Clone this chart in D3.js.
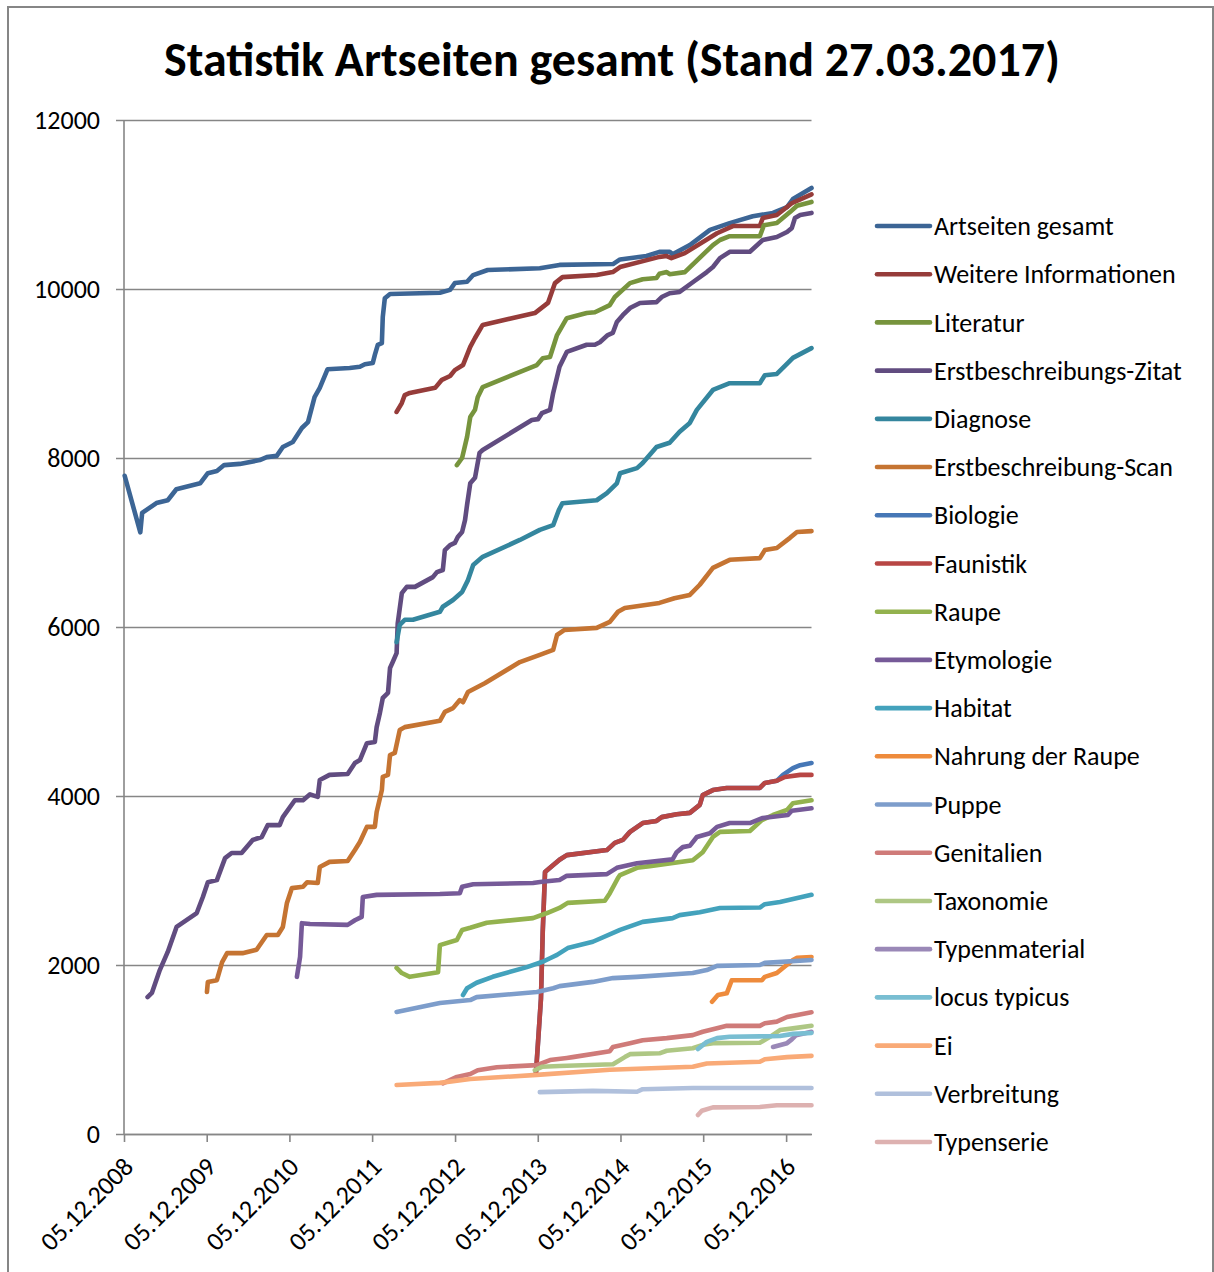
<!DOCTYPE html>
<html><head><meta charset="utf-8">
<script src="https://cdn.jsdelivr.net/npm/d3@7"></script>
<style>
html,body{margin:0;padding:0;background:#fff;}
svg{display:block;}
text{font-family:Carlito, Calibri, Lato, sans-serif;fill:#000;}
</style></head>
<body>
<svg id="chart" width="1214" height="1272"></svg>
<script>
const titleText = "Statistik Artseiten gesamt (Stand 27.03.2017)";
const seriesNames = ["Artseiten gesamt","Weitere Informationen","Literatur","Erstbeschreibungs-Zitat","Diagnose","Erstbeschreibung-Scan","Biologie","Faunistik","Raupe","Etymologie","Habitat","Nahrung der Raupe","Puppe","Genitalien","Taxonomie","Typenmaterial","locus typicus","Ei","Verbreitung","Typenserie"];
const seriesColors = ["#3C6595","#963C3A","#77943D","#614C80","#34869E","#C57432","#4677B6","#B84644","#93B24E","#765A98","#43A2BC","#EE8B3C","#7D9DCB","#CF7B79","#AEC784","#9A88B7","#79BED2","#F9AA77","#B0C0DC","#DDB1B0"];
const yTicks = [0,2000,4000,6000,8000,10000,12000];
const xTickLabels = ["05.12.2008","05.12.2009","05.12.2010","05.12.2011","05.12.2012","05.12.2013","05.12.2014","05.12.2015","05.12.2016"];
const dateRange = ["2008-12-05","2017-03-27"];

const artseitenGesamt = [["2008-12-08",7790],["2009-02-15",7120],["2009-02-23",7350],["2009-04-27",7467],["2009-06-16",7500],["2009-07-24",7630],["2009-11-06",7700],["2009-12-10",7820],["2010-01-19",7845],["2010-02-20",7916],["2010-04-30",7930],["2010-07-27",7975],["2010-08-27",8010],["2010-10-10",8025],["2010-11-06",8130],["2010-12-20",8190],["2011-01-29",8355],["2011-02-25",8425],["2011-03-26",8720],["2011-04-18",8830],["2011-05-22",9050],["2011-08-28",9065],["2011-10-12",9080],["2011-11-03",9110],["2011-12-08",9125],["2011-12-17",9220],["2011-12-30",9340],["2012-01-17",9360],["2012-01-21",9670],["2012-01-30",9890],["2012-02-22",9940],["2012-09-29",9955],["2012-11-13",9990],["2012-12-04",10070],["2013-01-27",10085],["2013-02-23",10165],["2013-04-28",10225],["2013-12-14",10245],["2014-03-11",10285],["2014-11-02",10295],["2014-12-03",10350],["2015-03-30",10390],["2015-05-26",10440],["2015-07-10",10440],["2015-07-23",10410],["2015-10-07",10520],["2016-01-04",10700],["2016-03-31",10780],["2016-07-11",10860],["2016-10-08",10900],["2016-12-09",10970],["2017-01-04",11065],["2017-03-27",11195]];
const weitereInformationen = [["2012-03-22",8545],["2012-04-14",8650],["2012-04-27",8745],["2012-05-19",8770],["2012-09-08",8830],["2012-10-08",8925],["2012-11-13",8970],["2012-12-04",9040],["2013-01-09",9100],["2013-02-10",9315],["2013-03-03",9420],["2013-04-06",9575],["2013-11-22",9715],["2014-01-19",9835],["2014-02-19",10070],["2014-03-24",10140],["2014-08-22",10165],["2014-11-01",10200],["2014-12-03",10260],["2015-05-26",10380],["2015-06-27",10390],["2015-07-18",10365],["2015-09-15",10425],["2016-02-04",10660],["2016-04-14",10745],["2016-08-11",10745],["2016-08-24",10840],["2016-10-25",10875],["2016-12-30",11015],["2017-03-27",11120]];
const literatur = [["2012-12-13",7915],["2013-01-05",8000],["2013-01-27",8250],["2013-02-10",8485],["2013-03-03",8570],["2013-03-15",8720],["2013-04-06",8840],["2013-12-01",9100],["2013-12-27",9180],["2014-01-28",9195],["2014-02-28",9455],["2014-04-12",9655],["2014-07-09",9715],["2014-08-14",9725],["2014-10-19",9810],["2014-11-10",9905],["2015-01-16",10070],["2015-03-13",10115],["2015-05-13",10130],["2015-05-26",10180],["2015-06-27",10200],["2015-07-10",10175],["2015-09-15",10200],["2016-01-17",10520],["2016-02-17",10580],["2016-03-31",10625],["2016-08-11",10625],["2016-08-29",10755],["2016-10-25",10780],["2016-12-22",10910],["2017-01-22",10985],["2017-03-27",11030]];
const erstbeschreibungsZitat = [["2009-03-19",1620],["2009-04-07",1670],["2009-05-12",1940],["2009-06-16",2155],["2009-07-25",2450],["2009-10-22",2615],["2009-11-18",2805],["2009-12-10",2980],["2010-01-19",3005],["2010-02-24",3265],["2010-03-25",3325],["2010-05-08",3325],["2010-06-26",3480],["2010-08-05",3515],["2010-08-31",3655],["2010-10-23",3655],["2010-11-06",3750],["2010-12-29",3950],["2011-02-03",3950],["2011-03-06",4020],["2011-04-09",3990],["2011-04-18",4190],["2011-05-31",4250],["2011-08-19",4260],["2011-09-20",4390],["2011-10-12",4425],["2011-11-12",4625],["2011-12-17",4640],["2011-12-25",4815],["2012-01-08",4980],["2012-01-21",5160],["2012-02-13",5220],["2012-02-22",5515],["2012-03-05",5585],["2012-03-22",5690],["2012-03-27",6045],["2012-04-14",6400],["2012-05-06",6475],["2012-06-11",6475],["2012-08-29",6590],["2012-09-16",6650],["2012-10-12",6675],["2012-10-21",6910],["2012-11-13",6970],["2012-12-04",6995],["2012-12-17",7065],["2013-01-05",7125],["2013-01-18",7265],["2013-01-27",7445],["2013-02-10",7700],["2013-03-03",7765],["2013-03-23",8060],["2013-04-06",8095],["2013-11-09",8450],["2013-12-06",8460],["2013-12-23",8530],["2014-01-28",8570],["2014-02-11",8770],["2014-03-11",9080],["2014-04-12",9255],["2014-07-09",9340],["2014-08-14",9340],["2014-09-05",9370],["2014-10-10",9455],["2014-11-01",9480],["2014-11-19",9610],["2014-12-15",9690],["2015-01-16",9775],["2015-03-01",9835],["2015-05-13",9845],["2015-06-05",9905],["2015-07-10",9950],["2015-08-23",9965],["2015-10-20",10080],["2015-12-21",10200],["2016-01-17",10260],["2016-02-17",10365],["2016-03-31",10440],["2016-06-28",10440],["2016-08-24",10580],["2016-10-25",10615],["2016-12-09",10675],["2016-12-30",10720],["2017-01-13",10840],["2017-02-05",10875],["2017-03-27",10900]];
const diagnose = [["2012-03-22",5820],["2012-04-05",6025],["2012-04-27",6085],["2012-06-02",6085],["2012-09-29",6180],["2012-10-12",6240],["2012-11-26",6320],["2013-01-05",6415],["2013-01-31",6555],["2013-02-23",6735],["2013-04-06",6830],["2013-09-17",7030],["2013-12-14",7150],["2014-02-11",7205],["2014-03-08",7385],["2014-03-24",7465],["2014-08-22",7500],["2014-10-06",7585],["2014-11-19",7700],["2014-12-03",7820],["2015-02-16",7880],["2015-03-13",7940],["2015-05-13",8130],["2015-07-10",8180],["2015-08-23",8310],["2015-10-07",8415],["2015-11-07",8570],["2016-01-17",8805],["2016-03-31",8885],["2016-08-11",8885],["2016-09-02",8980],["2016-10-25",8995],["2016-12-13",9125],["2017-01-04",9185],["2017-03-27",9300]];
const erstbeschreibungScan = [["2009-12-06",1680],["2009-12-10",1800],["2010-01-19",1820],["2010-02-11",2035],["2010-03-05",2140],["2010-05-12",2140],["2010-07-13",2180],["2010-08-27",2355],["2010-10-15",2355],["2010-11-06",2450],["2010-11-24",2735],["2010-12-16",2910],["2011-02-03",2925],["2011-02-21",2980],["2011-04-09",2970],["2011-04-18",3160],["2011-05-31",3220],["2011-08-19",3230],["2011-09-20",3360],["2011-10-12",3455],["2011-11-12",3635],["2011-12-17",3635],["2011-12-25",3810],["2012-01-17",4070],["2012-01-21",4225],["2012-02-13",4250],["2012-02-22",4485],["2012-03-14",4510],["2012-04-05",4780],["2012-04-27",4815],["2012-09-29",4890],["2012-10-21",4995],["2012-11-26",5040],["2012-12-26",5135],["2013-01-09",5110],["2013-01-31",5230],["2013-04-15",5335],["2013-09-17",5585],["2013-12-14",5670],["2014-02-11",5730],["2014-02-28",5905],["2014-04-02",5965],["2014-08-22",5990],["2014-10-19",6060],["2014-11-24",6180],["2014-12-24",6225],["2015-05-26",6285],["2015-07-31",6340],["2015-10-07",6380],["2015-11-20",6500],["2016-01-17",6700],["2016-03-31",6795],["2016-08-11",6815],["2016-09-02",6910],["2016-10-25",6935],["2016-12-22",7055],["2017-01-22",7125],["2017-03-27",7135]];
const biologie = [["2013-11-27",720],["2013-12-19",1600],["2013-12-27",2400],["2014-01-06",3100],["2014-01-28",3150],["2014-03-11",3245],["2014-04-12",3300],["2014-10-06",3360],["2014-11-10",3445],["2014-12-15",3480],["2015-01-16",3575],["2015-03-13",3680],["2015-05-13",3705],["2015-06-05",3750],["2015-08-10",3785],["2015-10-07",3800],["2015-11-20",3895],["2015-12-03",4010],["2016-01-17",4070],["2016-03-18",4095],["2016-08-11",4095],["2016-09-02",4155],["2016-10-25",4180],["2016-11-21",4250],["2017-01-04",4330],["2017-02-05",4365],["2017-03-27",4390]];
const faunistik = [["2013-11-27",720],["2013-12-19",1600],["2013-12-27",2400],["2014-01-06",3100],["2014-01-28",3150],["2014-03-11",3245],["2014-04-12",3300],["2014-10-06",3360],["2014-11-10",3445],["2014-12-15",3480],["2015-01-16",3575],["2015-03-13",3680],["2015-05-13",3705],["2015-06-05",3750],["2015-08-10",3785],["2015-10-07",3800],["2015-11-20",3895],["2015-12-03",4010],["2016-01-17",4070],["2016-03-18",4095],["2016-08-11",4095],["2016-09-02",4155],["2016-10-25",4180],["2016-11-30",4225],["2017-02-05",4250],["2017-03-27",4250]];
const raupe = [["2012-03-22",1965],["2012-04-14",1905],["2012-05-19",1860],["2012-09-21",1915],["2012-09-29",2235],["2012-12-13",2295],["2013-01-05",2415],["2013-02-10",2440],["2013-04-24",2500],["2013-11-14",2555],["2014-01-15",2615],["2014-03-11",2675],["2014-04-16",2735],["2014-09-27",2760],["2014-10-19",2850],["2014-11-24",3030],["2014-12-03",3065],["2015-02-16",3150],["2015-04-13",3170],["2015-10-20",3240],["2015-12-03",3335],["2016-01-17",3515],["2016-02-17",3575],["2016-06-28",3585],["2016-08-20",3715],["2016-10-08",3775],["2016-12-09",3835],["2017-01-04",3915],["2017-03-27",3950]];
const etymologie = [["2011-01-07",1860],["2011-01-21",2095],["2011-01-29",2495],["2011-03-06",2485],["2011-08-19",2475],["2011-09-20",2530],["2011-10-20",2570],["2011-10-25",2805],["2011-12-25",2830],["2012-09-29",2840],["2012-12-26",2850],["2013-01-05",2925],["2013-02-23",2955],["2013-11-14",2970],["2013-12-23",2985],["2014-03-11",3005],["2014-04-12",3055],["2014-10-06",3075],["2014-11-19",3150],["2015-02-16",3205],["2015-07-23",3250],["2015-08-10",3335],["2015-09-06",3395],["2015-10-07",3410],["2015-11-07",3515],["2016-01-04",3560],["2016-02-04",3635],["2016-03-31",3680],["2016-06-28",3680],["2016-08-24",3740],["2016-12-13",3775],["2016-12-30",3825],["2017-03-27",3855]];
const habitat = [["2013-01-09",1645],["2013-01-27",1725],["2013-03-10",1790],["2013-05-20",1860],["2013-10-18",1975],["2013-12-23",2035],["2014-01-28",2080],["2014-02-28",2120],["2014-04-16",2200],["2014-08-05",2275],["2014-12-03",2415],["2015-03-13",2510],["2015-07-23",2555],["2015-08-23",2590],["2015-11-20",2625],["2016-02-17",2675],["2016-08-11",2680],["2016-09-02",2720],["2016-11-08",2745],["2017-03-27",2830]];
const nahrungDerRaupe = [["2016-01-13",1565],["2016-02-08",1645],["2016-03-18",1665],["2016-04-09",1820],["2016-08-20",1820],["2016-09-02",1860],["2016-10-25",1905],["2016-11-21",1965],["2017-01-04",2060],["2017-01-22",2085],["2017-03-27",2095]];
const puppe = [["2012-03-22",1445],["2012-09-29",1550],["2013-02-10",1585],["2013-03-10",1620],["2013-12-01",1680],["2014-02-11",1725],["2014-03-11",1750],["2014-08-05",1800],["2014-11-02",1845],["2015-02-16",1860],["2015-10-20",1905],["2015-12-21",1940],["2016-02-04",1990],["2016-08-11",2000],["2016-09-02",2025],["2017-03-27",2060]];
const genitalien = [["2012-10-12",600],["2012-12-13",675],["2013-02-10",710],["2013-03-15",755],["2013-06-07",790],["2013-12-01",815],["2014-01-28",875],["2014-04-12",900],["2014-05-08",910],["2014-10-19",980],["2014-11-02",1030],["2015-01-16",1075],["2015-03-13",1110],["2015-06-27",1135],["2015-10-20",1170],["2015-12-03",1210],["2016-02-08",1255],["2016-03-18",1280],["2016-08-11",1280],["2016-09-02",1310],["2016-10-25",1330],["2016-12-09",1385],["2017-03-27",1440]];
const taxonomie = [["2013-11-22",755],["2013-12-23",795],["2014-03-11",805],["2014-11-02",825],["2014-12-24",910],["2015-01-16",945],["2015-05-26",955],["2015-06-27",985],["2015-10-20",1015],["2015-12-03",1055],["2016-01-17",1075],["2016-08-11",1080],["2016-09-25",1150],["2016-11-08",1230],["2017-01-04",1250],["2017-03-27",1280]];
const typenmaterial = [["2016-10-08",1030],["2016-12-09",1075],["2016-12-30",1120],["2017-01-18",1170],["2017-03-27",1210]];
const locusTypicus = [["2015-11-12",1005],["2015-12-21",1090],["2016-02-04",1135],["2016-03-31",1150],["2016-08-11",1155],["2016-11-08",1160],["2017-01-04",1185],["2017-03-27",1195]];
const ei = [["2012-03-22",580],["2012-09-29",605],["2013-02-10",650],["2013-12-01",700],["2014-10-19",760],["2015-10-20",795],["2015-12-21",835],["2016-08-11",855],["2016-09-02",885],["2016-12-09",910],["2017-03-27",925]];
const verbreitung = [["2013-12-14",495],["2014-08-05",510],["2015-02-16",500],["2015-03-13",530],["2015-10-20",545],["2017-03-27",545]];
const typenserie = [["2015-11-12",225],["2015-11-29",275],["2016-01-17",315],["2016-08-11",320],["2016-10-25",340],["2017-03-27",340]];

const seriesData = [artseitenGesamt, weitereInformationen, literatur, erstbeschreibungsZitat, diagnose, erstbeschreibungScan, biologie, faunistik, raupe, etymologie, habitat, nahrungDerRaupe, puppe, genitalien, taxonomie, typenmaterial, locusTypicus, ei, verbreitung, typenserie];

const parse = d3.utcParse("%Y-%m-%d");
const parseTick = d3.utcParse("%d.%m.%Y");
const svg = d3.select("#chart");

const plot = {left:124, right:811.5, top:120, bottom:1134};
const x = d3.scaleUtc().domain(dateRange.map(parse)).range([plot.left, plot.right]);
const y = d3.scaleLinear().domain([0,12000]).range([plot.bottom, plot.top]);
const gridColor = "#868686";
const labelFont = "Carlito, Calibri, Lato, sans-serif";

// outer frame
svg.append("rect").attr("x",8).attr("y",7).attr("width",1205).attr("height",1300)
  .attr("fill","none").attr("stroke",gridColor).attr("stroke-width",2);

// title
svg.append("text").attr("x",612).attr("y",76).attr("text-anchor","middle")
  .style("font-size","48px").style("font-weight","bold").text(titleText);

// y axis with gridlines
const yAxis = svg.append("g").attr("transform",`translate(116,0)`)
  .call(d3.axisLeft(y).tickValues(yTicks).tickFormat(d3.format("d"))
        .tickSize(-(plot.right - 116)).tickPadding(16));
yAxis.select(".domain").remove();
yAxis.selectAll(".tick line").attr("stroke",gridColor).attr("stroke-width",1.6);
yAxis.selectAll(".tick text").style("font-size","26px").style("font-family",labelFont);

// vertical axis line
svg.append("line").attr("x1",plot.left).attr("x2",plot.left).attr("y1",plot.top).attr("y2",plot.bottom)
  .attr("stroke",gridColor).attr("stroke-width",1.6);

// x axis
const xAxis = svg.append("g").attr("transform",`translate(0,${plot.bottom})`)
  .call(d3.axisBottom(x).tickValues(xTickLabels.map(parseTick)).tickFormat(d3.utcFormat("%d.%m.%Y"))
        .tickSizeInner(8).tickSizeOuter(0));
xAxis.select(".domain").attr("stroke",gridColor).attr("stroke-width",1.6);
xAxis.selectAll(".tick line").attr("stroke",gridColor).attr("stroke-width",1.6);
xAxis.selectAll(".tick text")
  .style("font-size","26px").style("font-family",labelFont)
  .attr("text-anchor","end").attr("x",0).attr("y",0).attr("dy","0.35em")
  .attr("transform","translate(4,28) rotate(-45)");

// lines
const line = d3.line().x(d => x(parse(d[0]))).y(d => y(d[1]));
svg.append("g").selectAll("path").data(seriesData).join("path")
  .attr("d", line)
  .attr("fill","none")
  .attr("stroke",(d,i) => seriesColors[i])
  .attr("stroke-width",4.6)
  .attr("stroke-linejoin","round")
  .attr("stroke-linecap","round");

// legend
const legendY = d3.scalePoint().domain(seriesNames).range([226,1142]);
const leg = svg.append("g").selectAll("g").data(seriesNames).join("g")
  .attr("transform", d => `translate(0,${legendY(d)})`);
leg.append("line").attr("x1",877).attr("x2",930).attr("y1",0).attr("y2",0)
  .attr("stroke",(d,i)=>seriesColors[i]).attr("stroke-width",4.6).attr("stroke-linecap","round");
leg.append("text").attr("x",934).attr("y",0).attr("dy","0.35em")
  .style("font-size","26px").text(d=>d);
</script>
</body></html>
